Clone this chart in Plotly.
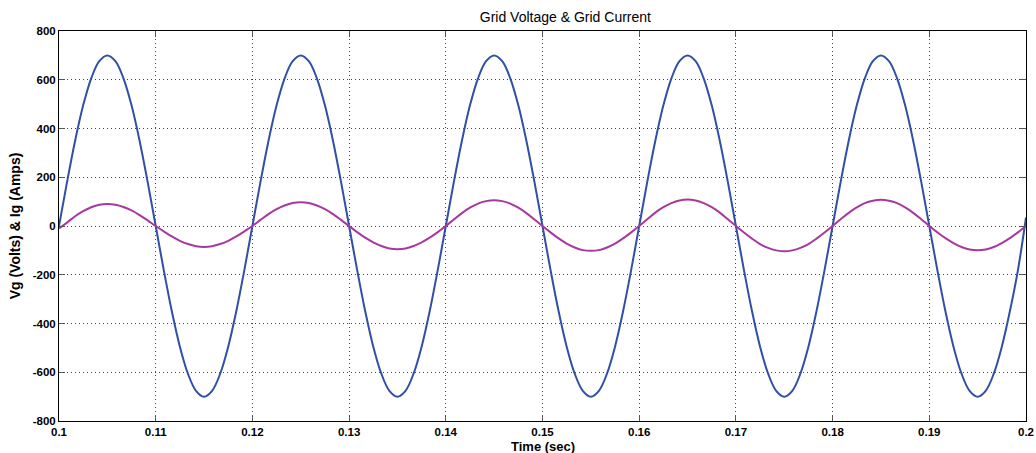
import plotly.graph_objects as go

# Time samples (s), 24 samples per 20 ms cycle
time = [round(0.1 + i * 0.02 / 24, 6) for i in range(121)]

# Grid voltage (V)
vg = [0,
      181, 350, 495, 606, 676, 700, 676, 606, 495, 350, 181, 0,
      -181, -350, -495, -606, -676, -700, -676, -606, -495, -350, -181, 0,
      181, 350, 495, 606, 676, 700, 676, 606, 495, 350, 181, 0,
      -181, -350, -495, -606, -676, -700, -676, -606, -495, -350, -181, 0,
      181, 350, 495, 606, 676, 700, 676, 606, 495, 350, 181, 0,
      -181, -350, -495, -606, -676, -700, -676, -606, -495, -350, -181, 0,
      181, 350, 495, 606, 676, 700, 676, 606, 495, 350, 181, 0,
      -181, -350, -495, -606, -676, -700, -676, -606, -495, -350, -181, 0,
      181, 350, 495, 606, 676, 700, 676, 606, 495, 350, 181, 0,
      -181, -350, -495, -606, -676, -700, -676, -606, -495, -350, -181, 35]

# Grid current (A)
ig = [-10,
      14, 40, 61, 77, 87, 90, 87, 78, 64, 45, 23, 0,
      -22, -43, -61, -74, -83, -86, -83, -74, -61, -43, -22, 0,
      25, 49, 69, 84, 94, 97, 94, 84, 69, 49, 25, 0,
      -25, -48, -67, -82, -92, -95, -92, -82, -67, -48, -25, 0,
      27, 53, 75, 92, 102, 106, 102, 92, 75, 53, 27, 0,
      -26, -51, -72, -88, -99, -102, -99, -88, -72, -51, -26, 0,
      28, 55, 77, 94, 105, 109, 105, 94, 77, 55, 28, 0,
      -27, -52, -74, -90, -100, -104, -100, -90, -74, -52, -27, 0,
      28, 54, 76, 94, 104, 108, 104, 94, 76, 54, 28, 0,
      -26, -50, -70, -86, -96, -99, -96, -86, -70, -50, -26, 0]

x_ticks = [0.1, 0.11, 0.12, 0.13, 0.14, 0.15, 0.16, 0.17, 0.18, 0.19, 0.2]
x_tick_labels = ["0.1", "0.11", "0.12", "0.13", "0.14", "0.15", "0.16", "0.17", "0.18", "0.19", "0.2"]
y_ticks = [-800, -600, -400, -200, 0, 200, 400, 600, 800]

fig = go.Figure()
fig.add_trace(go.Scatter(x=time, y=vg, mode="lines", name="Vg",
                         line=dict(color="#3050A8", width=2, shape="spline", smoothing=1.0)))
fig.add_trace(go.Scatter(x=time, y=ig, mode="lines", name="Ig",
                         line=dict(color="#A8389F", width=2, shape="spline", smoothing=1.0)))

font_b = "Liberation Sans"
fig.update_layout(
    width=1036, height=453,
    margin=dict(l=59, r=10, t=31, b=32),
    paper_bgcolor="white", plot_bgcolor="white",
    showlegend=False,
    title=dict(text="Grid Voltage &amp; Grid Current", x=(59 + 1026) / 2 / 1036, xanchor="center",
               xref="paper", y=1 - 17 / 453, yanchor="middle",
               font=dict(family=font_b, size=14, color="black")),
    font=dict(family=font_b, size=11, color="black"),
    annotations=[dict(text="<b>Time (sec)</b>", xref="paper", yref="paper",
                      x=0.5, y=-(446 - 421) / 390, xanchor="center", yanchor="middle",
                      showarrow=False, font=dict(family=font_b, size=13, color="black"))],
)
grid_dash = "1px,3px"
fig.update_xaxes(
    range=[0.1, 0.2], tickvals=x_ticks, ticktext=["<b>%s</b>" % t for t in x_tick_labels],
    showgrid=True, gridcolor="#444444", griddash=grid_dash, gridwidth=1,
    showline=True, linecolor="black", linewidth=1, mirror="ticks",
    ticks="inside", ticklen=6, tickcolor="#555555", zeroline=False,
    automargin=False,
    tickfont=dict(size=11.5),
)
fig.update_yaxes(
    range=[-800, 800], tickvals=y_ticks, ticktext=["<b>%d</b>" % v for v in y_ticks],
    showgrid=True, gridcolor="#444444", griddash=grid_dash, gridwidth=1,
    showline=True, linecolor="black", linewidth=1, mirror="ticks",
    ticks="inside", ticklen=6, tickcolor="#555555", zeroline=False,
    automargin=False,
    title=dict(text="<b>Vg (Volts) &amp; Ig (Amps)</b>", standoff=8, font=dict(size=14)),
    tickfont=dict(size=11.5),
)

fig.write_html("out.html")
